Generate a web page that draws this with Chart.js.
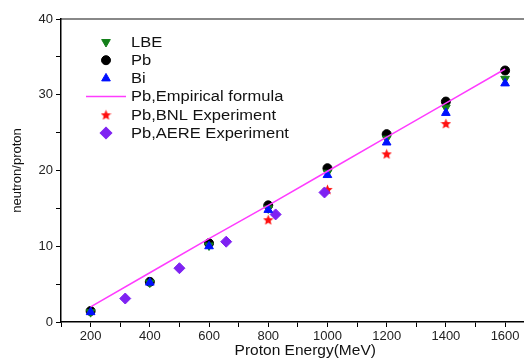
<!DOCTYPE html>
<html>
<head>
<meta charset="utf-8">
<script src="https://cdn.jsdelivr.net/npm/chart.js@4.4.0/dist/chart.umd.min.js"></script>
<style>
  html, body { margin: 0; padding: 0; background: #fff; overflow: hidden; width: 524px; height: 361px; }
</style>
</head>
<body>
<!-- the source figure is cropped on the right, so the plot runs past the window edge -->
<canvas id="chart" width="556" height="361"></canvas>
<script>
// values
const energies = [200, 400, 600, 800, 1000, 1200, 1400, 1600];
const lbeValues = [1.3, 5.2, 10.1, 15.0, 19.7, 24.2, 28.3, 32.1];
const pbValues = [1.45, 5.3, 10.4, 15.4, 20.3, 24.8, 29.1, 33.2];
const biValues = [1.3, 5.2, 10.0, 14.8, 19.4, 23.7, 27.6, 31.5];
const formulaValues = [2.0, 6.5, 11.0, 15.4, 19.9, 24.4, 28.9, 33.4];
const bnlEnergies = [800, 1000, 1200, 1400];
const bnlValues = [13.5, 17.5, 22.2, 26.2];
const aereEnergies = [317, 500, 658, 825, 990];
const aereValues = [3.1, 7.1, 10.6, 14.2, 17.1];
const legendNames = ["LBE", "Pb", "Bi", "Pb,Empirical formula", "Pb,BNL Experiment", "Pb,AERE Experiment"];
const xTicks = [100, 200, 300, 400, 500, 600, 700, 800, 900, 1000, 1100, 1200, 1300, 1400, 1500, 1600, 1700];
const yTicks = [0, 5, 10, 15, 20, 25, 30, 35, 40];

const FONT = "Arial, 'Liberation Sans', sans-serif";

function pairs(xs, ys) {
  return xs.map((x, i) => ({ x: x, y: ys[i] }));
}

// filled red star, Chart.js 'star' is only stroked
function makeStar(size, color) {
  const c = document.createElement("canvas");
  c.width = size;
  c.height = size;
  const g = c.getContext("2d");
  const r = size / 2, ri = r * 0.45;
  g.beginPath();
  for (let k = 0; k < 10; k++) {
    const rad = k % 2 === 0 ? r : ri;
    const a = -Math.PI / 2 + k * Math.PI / 5;
    const px = r + rad * Math.cos(a), py = r + 0.5 + rad * Math.sin(a);
    if (k === 0) g.moveTo(px, py); else g.lineTo(px, py);
  }
  g.closePath();
  g.fillStyle = color;
  g.fill();
  return c;
}
const starImg = makeStar(11, "#ff1010");

// legend drawn inside the plot area, top left
const insideLegend = {
  id: "insideLegend",
  afterDatasetsDraw(chart) {
    const ctx = chart.ctx;
    const area = chart.chartArea;
    ctx.save();
    chart.data.datasets.forEach((ds, i) => {
      const y = area.top + 23 + i * 18.2;
      const cx = area.left + 45;
      if (ds.showLine) {
        ctx.strokeStyle = ds.borderColor;
        ctx.lineWidth = 1.5;
        ctx.beginPath();
        ctx.moveTo(cx - 20, y);
        ctx.lineTo(cx + 20, y);
        ctx.stroke();
      } else {
        ctx.fillStyle = ds.backgroundColor;
        ctx.strokeStyle = ds.borderColor;
        Chart.helpers.drawPoint(ctx, {
          pointStyle: ds.pointStyle,
          rotation: ds.pointRotation || 0,
          radius: ds.pointRadius,
          borderWidth: 1
        }, cx, y);
      }
      // the source text is a bit wider than Arial
      ctx.save();
      ctx.translate(area.left + 70, y + 1);
      ctx.scale(1.18, 1);
      ctx.fillStyle = "#111";
      ctx.font = "14px " + FONT;
      ctx.textBaseline = "middle";
      ctx.textAlign = "left";
      ctx.fillText(ds.label, 0, 0);
      ctx.restore();
    });
    ctx.restore();
  }
};

const tickFont = { family: FONT, size: 13 };

new Chart(document.getElementById("chart"), {
  type: "scatter",
  data: {
    datasets: [
      {
        label: legendNames[0],
        data: pairs(energies, lbeValues),
        pointStyle: "triangle",
        pointRotation: 180,
        pointRadius: 5,
        backgroundColor: "#14801a",
        borderColor: "#14801a",
        order: 4
      },
      {
        label: legendNames[1],
        data: pairs(energies, pbValues),
        pointStyle: "circle",
        pointRadius: 4.5,
        backgroundColor: "#000",
        borderColor: "#000",
        order: 5
      },
      {
        label: legendNames[2],
        data: pairs(energies, biValues),
        pointStyle: "triangle",
        pointRadius: 5,
        backgroundColor: "#0010ff",
        borderColor: "#0010ff",
        order: 1
      },
      {
        label: legendNames[3],
        data: pairs(energies, formulaValues),
        showLine: true,
        pointRadius: 0,
        borderColor: "#ff3cff",
        borderWidth: 1.5,
        backgroundColor: "#ff3cff",
        order: 0
      },
      {
        label: legendNames[4],
        data: pairs(bnlEnergies, bnlValues),
        pointStyle: starImg,
        pointRadius: 5,
        backgroundColor: "#ff1010",
        borderColor: "#ff1010",
        order: 3
      },
      {
        label: legendNames[5],
        data: pairs(aereEnergies, aereValues),
        pointStyle: "rectRot",
        pointRadius: 5.5,
        backgroundColor: "#7f22f2",
        borderColor: "#7f22f2",
        order: 2
      }
    ]
  },
  options: {
    responsive: false,
    animation: false,
    layout: { padding: { top: 19, right: 0, left: 0, bottom: 0 } },
    plugins: {
      legend: { display: false },
      tooltip: { enabled: false }
    },
    scales: {
      x: {
        type: "linear",
        min: 100,
        max: 1750,
        afterBuildTicks: s => { s.ticks = xTicks.map(v => ({ value: v })); },
        afterFit: s => { s.height = 39; },
        ticks: {
          autoSkip: false,
          maxRotation: 0,
          padding: 2,
          color: "#222",
          font: tickFont,
          callback: v => (Math.round(v) % 200 === 0 && v <= 1600 ? v : "")
        },
        grid: { drawOnChartArea: false, drawTicks: true, tickLength: 5, tickColor: "#000" },
        border: { color: "#000", width: 1.5 },
        title: {
          display: true,
          text: "Proton Energy(MeV)",
          color: "#111",
          font: { family: FONT, size: 15.5 },
          padding: { top: 0, bottom: 1 }
        }
      },
      xTop: {
        type: "linear",
        position: "top",
        min: 100,
        max: 1750,
        afterFit: s => { s.height = 0; },
        ticks: { display: false },
        grid: { display: false },
        border: { display: true, color: "#888", width: 2 }
      },
      y: {
        min: 0,
        max: 40,
        afterBuildTicks: s => { s.ticks = yTicks.map(v => ({ value: v })); },
        afterFit: s => { s.width = 61; },
        ticks: {
          padding: 3,
          color: "#222",
          font: tickFont,
          callback: v => (v % 10 === 0 ? v : "")
        },
        grid: { drawOnChartArea: false, drawTicks: true, tickLength: 5, tickColor: "#000" },
        border: { color: "#000", width: 1.5 },
        title: {
          display: true,
          text: "neutron/proton",
          color: "#111",
          font: { family: FONT, size: 13 },
          padding: { top: 10, bottom: 0 }
        }
      }
    }
  },
  plugins: [insideLegend]
});
</script>
</body>
</html>
